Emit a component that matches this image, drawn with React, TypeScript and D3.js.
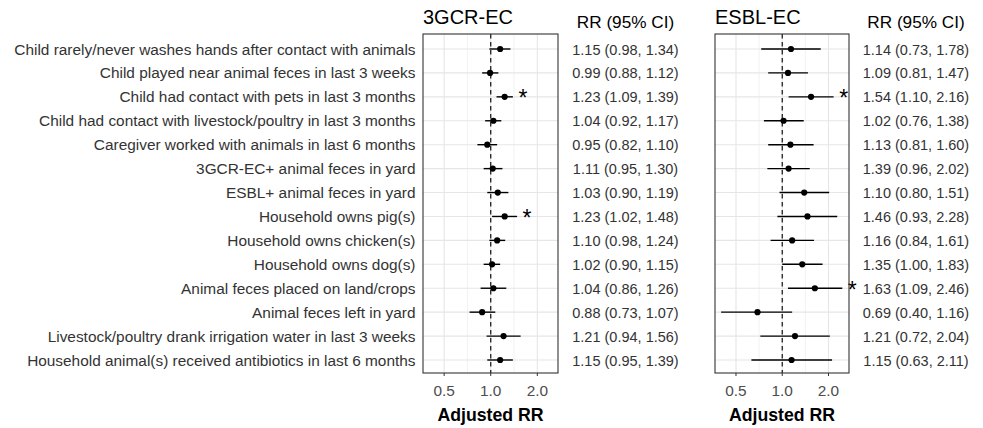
import React, { Component } from "react";
import * as d3 from "d3";

const factors = [
  "Child rarely/never washes hands after contact with animals",
  "Child played near animal feces in last 3 weeks",
  "Child had contact with pets in last 3 months",
  "Child had contact with livestock/poultry in last 3 months",
  "Caregiver worked with animals in last 6 months",
  "3GCR-EC+ animal feces in yard",
  "ESBL+ animal feces in yard",
  "Household owns pig(s)",
  "Household owns chicken(s)",
  "Household owns dog(s)",
  "Animal feces placed on land/crops",
  "Animal feces left in yard",
  "Livestock/poultry drank irrigation water in last 3 weeks",
  "Household animal(s) received antibiotics in last 6 months",
];

// values as plotted (points / whiskers)
const gcrRR = [1.15, 0.99, 1.23, 1.04, 0.95, 1.03, 1.11, 1.23, 1.1, 1.02, 1.04, 0.88, 1.21, 1.15];
const gcrLow = [0.98, 0.88, 1.09, 0.92, 0.82, 0.9, 0.95, 1.02, 0.98, 0.9, 0.86, 0.73, 0.94, 0.95];
const gcrHigh = [1.34, 1.12, 1.39, 1.17, 1.1, 1.19, 1.3, 1.48, 1.24, 1.15, 1.26, 1.07, 1.56, 1.39];
const gcrSig = [false, false, true, false, false, false, false, true, false, false, false, false, false, false];
const gcrText = [
  "1.15 (0.98, 1.34)", "0.99 (0.88, 1.12)", "1.23 (1.09, 1.39)", "1.04 (0.92, 1.17)",
  "0.95 (0.82, 1.10)", "1.11 (0.95, 1.30)", "1.03 (0.90, 1.19)", "1.23 (1.02, 1.48)",
  "1.10 (0.98, 1.24)", "1.02 (0.90, 1.15)", "1.04 (0.86, 1.26)", "0.88 (0.73, 1.07)",
  "1.21 (0.94, 1.56)", "1.15 (0.95, 1.39)",
];

const esblRR = [1.14, 1.09, 1.54, 1.02, 1.13, 1.1, 1.39, 1.46, 1.16, 1.35, 1.63, 0.69, 1.21, 1.15];
const esblLow = [0.73, 0.81, 1.1, 0.76, 0.81, 0.8, 0.96, 0.93, 0.84, 1.0, 1.09, 0.4, 0.72, 0.63];
const esblHigh = [1.78, 1.47, 2.16, 1.38, 1.6, 1.51, 2.02, 2.28, 1.61, 1.83, 2.46, 1.16, 2.04, 2.11];
const esblSig = [false, false, true, false, false, false, false, false, false, false, true, false, false, false];
const esblText = [
  "1.14 (0.73, 1.78)", "1.09 (0.81, 1.47)", "1.54 (1.10, 2.16)", "1.02 (0.76, 1.38)",
  "1.13 (0.81, 1.60)", "1.39 (0.96, 2.02)", "1.10 (0.80, 1.51)", "1.46 (0.93, 2.28)",
  "1.16 (0.84, 1.61)", "1.35 (1.00, 1.83)", "1.63 (1.09, 2.46)", "0.69 (0.40, 1.16)",
  "1.21 (0.72, 2.04)", "1.15 (0.63, 2.11)",
];

const majorTicks = [0.5, 1, 2];
const minorTicks = [Math.SQRT1_2, Math.SQRT2];

const FONT = "'Liberation Sans', Arial, sans-serif";

class App extends Component {
  svgRef = React.createRef<SVGSVGElement>();

  componentDidMount() {
    this.draw();
  }

  draw() {
    const svg = d3.select(this.svgRef.current);
    svg.selectAll("*").remove();

    const top = 34,
      bottom = 373;

    const y = d3
      .scalePoint()
      .domain(factors)
      .range([49, 360]);

    // row labels
    svg
      .append("g")
      .selectAll("text")
      .data(factors)
      .join("text")
      .attr("x", 415.5)
      .attr("y", (d) => y(d) + 5.5)
      .attr("text-anchor", "end")
      .attr("font-size", "15.4px")
      .attr("fill", "#333")
      .text((d) => d);

    const panels = [
      { title: "3GCR-EC", left: 423, right: 558, textX: 625.5, rr: gcrRR, lo: gcrLow, hi: gcrHigh, sig: gcrSig, txt: gcrText },
      { title: "ESBL-EC", left: 715, right: 849, textX: 916, rr: esblRR, lo: esblLow, hi: esblHigh, sig: esblSig, txt: esblText },
    ];

    panels.forEach((p) => {
      const x = d3.scaleLog().domain([0.365, 2.72]).range([p.left, p.right]);
      const g = svg.append("g");

      g.append("rect")
        .attr("x", p.left)
        .attr("y", top)
        .attr("width", p.right - p.left)
        .attr("height", bottom - top)
        .attr("fill", "white");

      // grid
      g.selectAll(".minor")
        .data(minorTicks)
        .join("line")
        .attr("x1", (d) => x(d))
        .attr("x2", (d) => x(d))
        .attr("y1", top)
        .attr("y2", bottom)
        .attr("stroke", "#ebebeb")
        .attr("stroke-width", 0.6);
      g.selectAll(".major")
        .data(majorTicks)
        .join("line")
        .attr("x1", (d) => x(d))
        .attr("x2", (d) => x(d))
        .attr("y1", top)
        .attr("y2", bottom)
        .attr("stroke", "#e6e6e6")
        .attr("stroke-width", 1.1);
      g.selectAll(".hgrid")
        .data(factors)
        .join("line")
        .attr("x1", p.left)
        .attr("x2", p.right)
        .attr("y1", (d) => y(d))
        .attr("y2", (d) => y(d))
        .attr("stroke", "#e6e6e6")
        .attr("stroke-width", 1.1);

      // reference line
      g.append("line")
        .attr("x1", x(1))
        .attr("x2", x(1))
        .attr("y1", top)
        .attr("y2", bottom)
        .attr("stroke", "#111")
        .attr("stroke-width", 1.2)
        .attr("stroke-dasharray", "4.5,3.5");

      // whiskers
      g.selectAll(".ci")
        .data(factors)
        .join("line")
        .attr("x1", (d, i) => x(p.lo[i]))
        .attr("x2", (d, i) => x(p.hi[i]))
        .attr("y1", (d) => y(d))
        .attr("y2", (d) => y(d))
        .attr("stroke", "#000")
        .attr("stroke-width", 1.4);

      g.selectAll(".pt")
        .data(factors)
        .join("circle")
        .attr("cx", (d, i) => x(p.rr[i]))
        .attr("cy", (d) => y(d))
        .attr("r", 3.1)
        .attr("fill", "#000");

      // significance stars
      g.selectAll(".star")
        .data(factors.filter((d, i) => p.sig[i]))
        .join("text")
        .attr("x", (d) => x(p.hi[factors.indexOf(d)]) + 10)
        .attr("y", (d) => y(d) + 9.5)
        .attr("text-anchor", "middle")
        .attr("font-size", "23px")
        .attr("fill", "#000")
        .text("*");

      // border
      g.append("rect")
        .attr("x", p.left)
        .attr("y", top)
        .attr("width", p.right - p.left)
        .attr("height", bottom - top)
        .attr("fill", "none")
        .attr("stroke", "#333")
        .attr("stroke-width", 1.1);

      // x ticks
      g.selectAll(".tick")
        .data(majorTicks)
        .join("line")
        .attr("x1", (d) => x(d))
        .attr("x2", (d) => x(d))
        .attr("y1", bottom)
        .attr("y2", bottom + 3)
        .attr("stroke", "#333");
      g.selectAll(".tl")
        .data(majorTicks)
        .join("text")
        .attr("x", (d) => x(d))
        .attr("y", 396)
        .attr("text-anchor", "middle")
        .attr("font-size", "15.4px")
        .attr("fill", "#4d4d4d")
        .text((d) => d3.format(".1f")(d));

      g.append("text")
        .attr("x", (p.left + p.right) / 2)
        .attr("y", 421)
        .attr("text-anchor", "middle")
        .attr("font-size", "17.7px")
        .attr("font-weight", "bold")
        .attr("fill", "#000")
        .text("Adjusted RR");

      g.append("text")
        .attr("x", p.left)
        .attr("y", 24)
        .attr("font-size", "20px")
        .attr("fill", "#000")
        .text(p.title);

      g.append("text")
        .attr("x", p.textX)
        .attr("y", 28)
        .attr("text-anchor", "middle")
        .attr("font-size", "17.2px")
        .attr("fill", "#000")
        .text("RR (95% CI)");

      g.selectAll(".val")
        .data(factors)
        .join("text")
        .attr("x", p.textX)
        .attr("y", (d) => y(d) + 5.5)
        .attr("text-anchor", "middle")
        .attr("font-size", "14.5px")
        .attr("fill", "#333")
        .text((d, i) => p.txt[i]);
    });
  }

  render() {
    return (
      <svg
        ref={this.svgRef}
        width={983}
        height={428}
        style={{ position: "absolute", left: 0, top: 0, background: "white", fontFamily: FONT }}
      />
    );
  }
}

export default App;
